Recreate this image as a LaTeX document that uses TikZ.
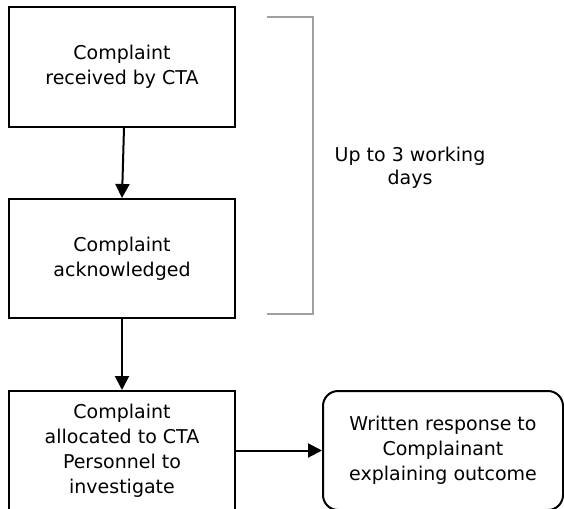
\documentclass[tikz,border=0pt]{standalone}
\usepackage{fontspec}
\setmainfont{DejaVu Sans}
\usetikzlibrary{arrows.meta}
\definecolor{brgray}{RGB}{160,160,160}
\tikzset{
  stepbox/.style={draw=black, line width=2pt, minimum width=226pt, minimum height=119pt, align=center, inner sep=0pt, font=\fontsize{19}{25}\selectfont},
  endbox/.style={stepbox, rounded corners=15pt, minimum width=240pt},
  flow/.style={line width=2pt, -{Triangle[length=14pt,width=14pt]}},
  bracket/.style={draw=brgray, line width=1.6pt},
}
\begin{document}
\begin{tikzpicture}[x=1pt,y=-1pt]
\useasboundingbox (0,0) rectangle (564,508);
\fill[white] (0,0) rectangle (564,508);
\node[stepbox] (b1) at (122,67) {Complaint\\received by CTA};
\node[stepbox] (b2) at (122,258.5) {Complaint\\acknowledged};
\node[stepbox] (b3) at (122,450.5) {Complaint\\allocated to CTA\\Personnel to\\investigate};
\node[endbox] (b4) at (443,450.5) {Written response to\\Complainant\\explaining outcome};
\node[font=\fontsize{19}{23}\selectfont, align=center] (lbl) at (410,168) {Up to 3 working\\days};
\coordinate (t1) at (267,17);
\coordinate (t2) at (313,17);
\coordinate (t3) at (313,314);
\coordinate (t4) at (267,314);
\draw[bracket] (t1) -- (t2) -- (t3) -- (t4);
\draw[flow] ([xshift=2pt]b1.south) -- (b2.north);
\draw[flow] (b2.south) -- (b3.north);
\draw[flow] (b3.east) -- (b4.west);
\end{tikzpicture}
\end{document}
